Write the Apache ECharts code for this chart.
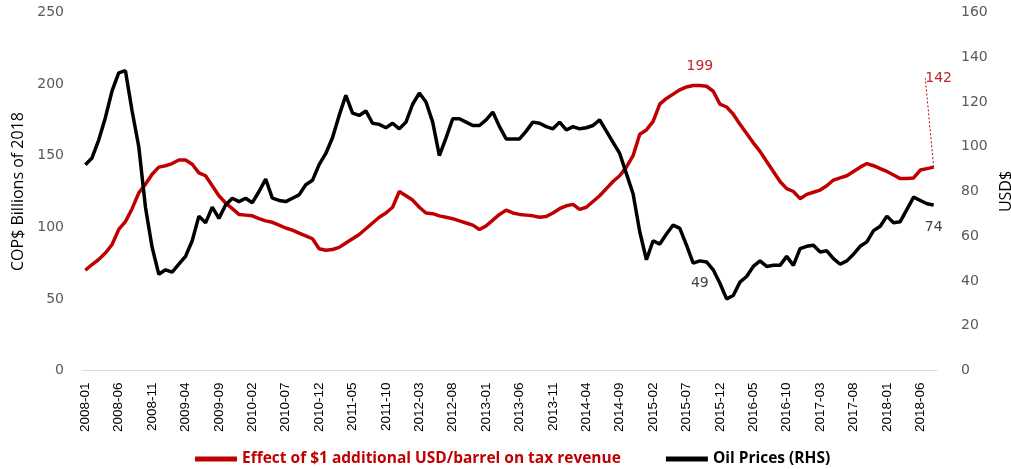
<!DOCTYPE html>
<html>
<head>
<meta charset="utf-8">
<script src="https://cdn.jsdelivr.net/npm/echarts@6/dist/echarts.min.js"></script>
<style>
  html, body { margin: 0; padding: 0; background: #fff; }
  #chart { width: 1011px; height: 469px; }
</style>
</head>
<body>
<div id="chart"></div>
<script>
// months 2008-01 .. 2018-08
var months = [];
for (var y = 2008; y <= 2018; y++) {
    for (var m = 1; m <= 12; m++) {
        if (y === 2018 && m > 8) break;
        months.push(y + '-' + (m < 10 ? '0' + m : m));
    }
}

// Effect of $1 additional USD/barrel on tax revenue (COP$ billions of 2018)
var taxEffect = [
    70, 74, 77.5, 82, 88, 98.5, 104, 113, 124, 130, 137, 142,
    143, 144.5, 147, 147, 144, 138, 136, 129, 122, 117, 113, 109,
    108.5, 108, 106, 104.5, 103.5, 101.5, 99.5, 98, 96, 94, 92, 85,
    84, 84.5, 86, 89, 92, 95, 99, 103, 107, 110, 114, 125,
    122, 119, 114, 110, 109.5, 108, 107, 106, 104.5, 103, 101.5, 98.5,
    101, 105, 109, 112, 110, 109, 108.5, 108, 107, 107.5, 110, 113,
    115, 116, 112.5, 114, 118, 122, 127, 132, 136, 142, 150, 165,
    168, 174, 186, 190, 193, 196, 198, 199, 199, 198.5, 195, 186,
    184, 179, 172, 165.5, 159, 153, 146, 139, 132, 127, 125, 120,
    123, 124.5, 126, 129, 133, 134.5, 136, 139, 142, 144.5, 143, 141,
    139, 136.5, 134, 134, 134.5, 140, 141, 142
];

// Oil prices (USD$, right axis)
var oilPrice = [
    92, 95, 103, 113, 125, 133, 134, 116, 100, 73, 55, 43,
    45, 44, 47.5, 51, 58, 69, 66, 73, 68, 74, 77, 75.5,
    77, 75, 80, 85.5, 77, 76, 75.5, 77, 78.5, 83, 85, 92,
    97, 104, 114, 123, 115, 114, 116, 110.5, 110, 108.5, 110.5, 108,
    111, 119, 124, 120, 111, 96, 104, 112.5, 112.5, 111, 109.5, 109.5,
    112, 115.5, 109, 103.5, 103.5, 103.5, 107, 111, 110.5, 109, 108, 111,
    107.5, 109, 108, 108.5, 109.5, 112, 107, 102, 97, 88, 79, 62,
    49.5, 58, 56.5, 61, 65, 63.5, 56, 48, 49, 48.5, 45, 39,
    32, 33.5, 39.5, 42, 46.5, 49, 46.5, 47, 47, 51, 47, 54.5,
    55.5, 56, 53, 53.5, 50, 47.5, 49, 52, 55.5, 57.5, 62.5, 64.5,
    69, 66, 66.5, 72, 77.5, 76, 74.5, 74
];

var taxLabelIdx = [92, 127];
var oilLabelIdx = [92, 127];
var LEADER_IDX = 127;   // the 142 label sits higher with a dotted leader

var taxName = 'Effect of $1 additional USD/barrel on tax revenue';
var oilName = 'Oil Prices (RHS)';

var RED = '#C00000';

function withLabels(values, idx, leader) {
    return values.map(function (v, i) {
        if (idx.indexOf(i) >= 0) {
            var item = { value: v, label: { show: true } };
            if (i === leader) {
                item.labelLine = { show: true, lineStyle: { color: RED, width: 1, type: [2, 2] } };
            }
            return item;
        }
        return v;
    });
}

var chart = echarts.init(document.getElementById('chart'));

var option = {
    animation: false,
    grid: { left: 82, right: 74, top: 12.5, bottom: 98.5, outerBoundsMode: 'none' },
    legend: {
        top: 446,
        left: 190,
        itemWidth: 42,
        itemHeight: 5,
        itemGap: 45,
        icon: 'rect',
        data: [
            { name: taxName, textStyle: { color: RED } },
            { name: oilName, textStyle: { color: '#000' } }
        ],
        textStyle: { fontFamily: 'Open Sans', fontWeight: 'bold', fontSize: 15.5 }
    },
    xAxis: {
        type: 'category',
        data: months,
        boundaryGap: true,
        axisLine: { show: true, lineStyle: { color: '#d9d9d9', width: 1 } },
        axisTick: { show: false },
        axisLabel: {
            interval: 4,
            rotate: 90,
            margin: 12,
            color: '#000',
            fontFamily: 'Liberation Sans',
            fontSize: 13.5
        },
        splitLine: { show: false }
    },
    yAxis: [{
        type: 'value',
        min: 0,
        max: 250,
        interval: 50,
        name: 'COP$ Billions of 2018',
        nameLocation: 'middle',
        nameRotate: 90,
        nameGap: 52,
        nameTextStyle: { color: '#000', fontFamily: 'Open Sans', fontSize: 16 },
        axisLine: { show: false },
        axisTick: { show: false },
        splitLine: { show: false },
        axisLabel: { color: '#595959', fontFamily: 'DejaVu Sans', fontSize: 14, margin: 18 }
    }, {
        type: 'value',
        min: 0,
        max: 160,
        interval: 20,
        name: 'USD$',
        nameLocation: 'middle',
        nameRotate: 90,
        nameGap: 54,
        nameTextStyle: { color: '#000', fontFamily: 'Open Sans', fontSize: 16 },
        axisLine: { show: false },
        axisTick: { show: false },
        splitLine: { show: false },
        axisLabel: { color: '#595959', fontFamily: 'DejaVu Sans', fontSize: 14, margin: 24 }
    }],
    series: [{
        name: taxName,
        type: 'line',
        yAxisIndex: 0,
        data: withLabels(taxEffect, taxLabelIdx, LEADER_IDX),
        showSymbol: true,
        showAllSymbol: true,
        symbol: 'circle',
        symbolSize: 0,
        lineStyle: { color: RED, width: 3.5 },
        itemStyle: { color: RED },
        label: {
            show: false,
            position: 'top',
            distance: 12,
            color: '#C0262B',
            fontFamily: 'DejaVu Sans',
            fontSize: 14,
            formatter: function (p) { return Math.round(p.value); }
        },
        labelLine: { show: false },
        labelLayout: function (p) {
            if (p.dataIndex === LEADER_IDX) {
                return { dx: 5, dy: -70 };
            }
        },
        emphasis: { disabled: true },
        z: 2
    }, {
        name: oilName,
        type: 'line',
        yAxisIndex: 1,
        data: withLabels(oilPrice, oilLabelIdx, -1),
        showSymbol: true,
        showAllSymbol: true,
        symbol: 'circle',
        symbolSize: 0,
        lineStyle: { color: '#000', width: 3.5 },
        itemStyle: { color: '#000' },
        label: {
            show: false,
            position: 'bottom',
            distance: 15,
            color: '#404040',
            fontFamily: 'DejaVu Sans',
            fontSize: 14,
            formatter: function (p) { return Math.round(p.value); }
        },
        emphasis: { disabled: true },
        z: 3
    }]
};

chart.setOption(option);
</script>
</body>
</html>
